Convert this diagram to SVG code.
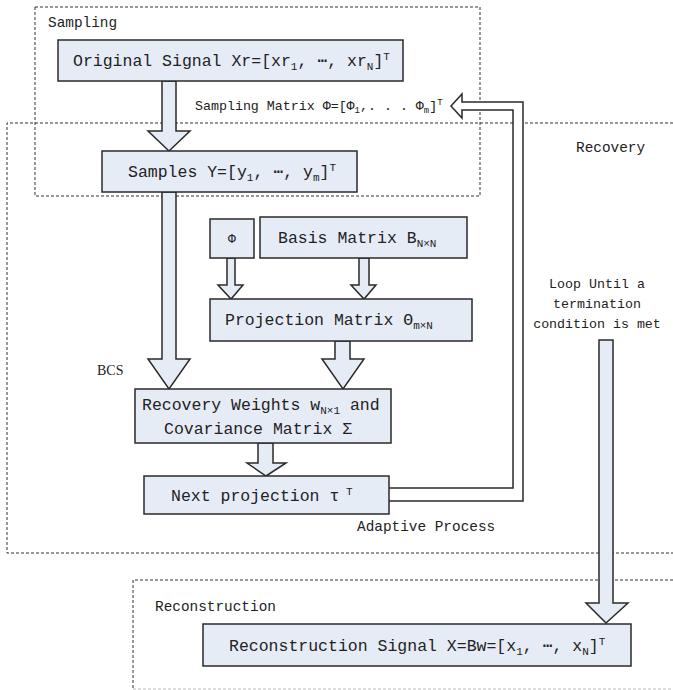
<svg xmlns="http://www.w3.org/2000/svg" width="673" height="690" viewBox="0 0 673 690">
<style>
.t{font-family:"Liberation Mono","DejaVu Sans Mono",monospace;fill:#222;}
.m{font-size:16.5px;}
.s{font-size:14.4px;}
.sm{font-size:13.3px;}
.sub{font-size:11px;}
.box{fill:#E6ECF6;stroke:#2a2a2a;stroke-width:1.5;}
.dash{fill:none;stroke:#333;stroke-width:1;stroke-dasharray:3,2;}
.arr{fill:#E6ECF6;stroke:#2a2a2a;stroke-width:1.5;stroke-linejoin:miter;}
.hol{fill:#fff;stroke:#2a2a2a;stroke-width:1.5;}
</style>
<rect width="673" height="690" fill="#fff"/>
<g id="regions">
<rect class="dash" x="35" y="7" width="445" height="189"/>
<path class="dash" d="M673,123 H7 V553 H673"/>
<path class="dash" d="M673,580 H133 V689"/>
<path class="dash" d="M133,689 H673" style="stroke:#bbb"/>
<text class="t s" x="48" y="27">Sampling</text>
<text class="t s" x="576" y="152">Recovery</text>
<text class="t s" x="155" y="611">Reconstruction</text>
</g>
<g id="connectors">
<polygon class="arr" points="162,81 176,81 176,131 190,131 169,151 148,131 162,131"/>
<polygon class="arr" points="162,192 176,192 176,359 190,359 169,389 148,359 162,359"/>
<polygon class="arr" points="227,258 235,258 235,285 243,285 231,299 218,285 227,285"/>
<polygon class="arr" points="359,258 369,258 369,285 376,285 364,299 351,285 359,285"/>
<polygon class="arr" points="335,341 350,341 350,359 364,359 343,389 322,359 335,359"/>
<polygon class="arr" points="258,443 273,443 273,463 286,463 266,476 247,463 258,463"/>
<polygon class="arr" points="599,340 613,340 613,603 628,603 606,623 586,603 599,603"/>
<path class="hol" d="M389,488 H513 V110 H462 V118 L451,106 L462,94 V102 H523 V501 H389"/>
<text class="t sm" x="195" y="110">Sampling Matrix Φ=[Φ<tspan dy="3" font-size="9">1</tspan><tspan dy="-3">,. . . Φ</tspan><tspan dy="3" font-size="9">m</tspan><tspan dy="-3">]</tspan><tspan dy="-5" font-size="9">T</tspan></text>
<text x="97" y="375" font-family="Liberation Serif, serif" font-size="14" fill="#222">BCS</text>
<text class="t s" x="357" y="531">Adaptive Process</text>
<text class="t sm" text-anchor="middle" x="597" y="288">Loop Until a</text>
<text class="t sm" text-anchor="middle" x="597" y="308">termination</text>
<text class="t sm" text-anchor="middle" x="597" y="328">condition is met</text>
</g>
<g id="original">
<rect class="box" x="58" y="40" width="345" height="41"/>
<text class="t m" x="73" y="66">Original Signal Xr=[xr<tspan class="sub" dy="4">1</tspan><tspan dy="-4">, ⋯, xr</tspan><tspan class="sub" dy="4">N</tspan><tspan dy="-4">]</tspan><tspan class="sub" dy="-6">T</tspan></text>
</g>
<g id="samples">
<rect class="box" x="102" y="151" width="255" height="41"/>
<text class="t m" x="128" y="177">Samples Y=[y<tspan class="sub" dy="4">1</tspan><tspan dy="-4">, ⋯, y</tspan><tspan class="sub" dy="4">m</tspan><tspan dy="-4">]</tspan><tspan class="sub" dy="-6">T</tspan></text>
</g>
<g id="phi">
<rect class="box" x="210" y="219" width="44" height="39"/>
<text class="t" font-size="13" text-anchor="middle" x="232" y="243">Φ</text>
</g>
<g id="basis">
<rect class="box" x="260" y="217" width="207" height="41"/>
<text class="t m" x="278" y="243">Basis Matrix B<tspan class="sub" dy="4">N×N</tspan></text>
</g>
<g id="projection">
<rect class="box" x="210" y="299" width="262" height="42"/>
<text class="t m" x="225" y="325">Projection Matrix Θ<tspan class="sub" dy="4">m×N</tspan></text>
</g>
<g id="weights">
<rect class="box" x="135" y="389" width="256" height="54"/>
<text class="t m" x="142" y="410">Recovery Weights w<tspan class="sub" dy="4">N×1</tspan><tspan dy="-4"> and</tspan></text>
<text class="t m" x="164" y="434">Covariance Matrix  Σ</text>
</g>
<g id="next">
<rect class="box" x="144" y="476" width="245" height="38"/>
<text class="t m" x="171" y="501">Next projection  τ<tspan class="sub" dy="-6"> T</tspan></text>
</g>
<g id="reconstruction">
<rect class="box" x="203" y="624" width="428" height="42"/>
<text class="t m" x="229" y="651">Reconstruction Signal X=Bw=[x<tspan class="sub" dy="4">1</tspan><tspan dy="-4">, ⋯, x</tspan><tspan class="sub" dy="4">N</tspan><tspan dy="-4">]</tspan><tspan class="sub" dy="-6">T</tspan></text>
</g>
</svg>
